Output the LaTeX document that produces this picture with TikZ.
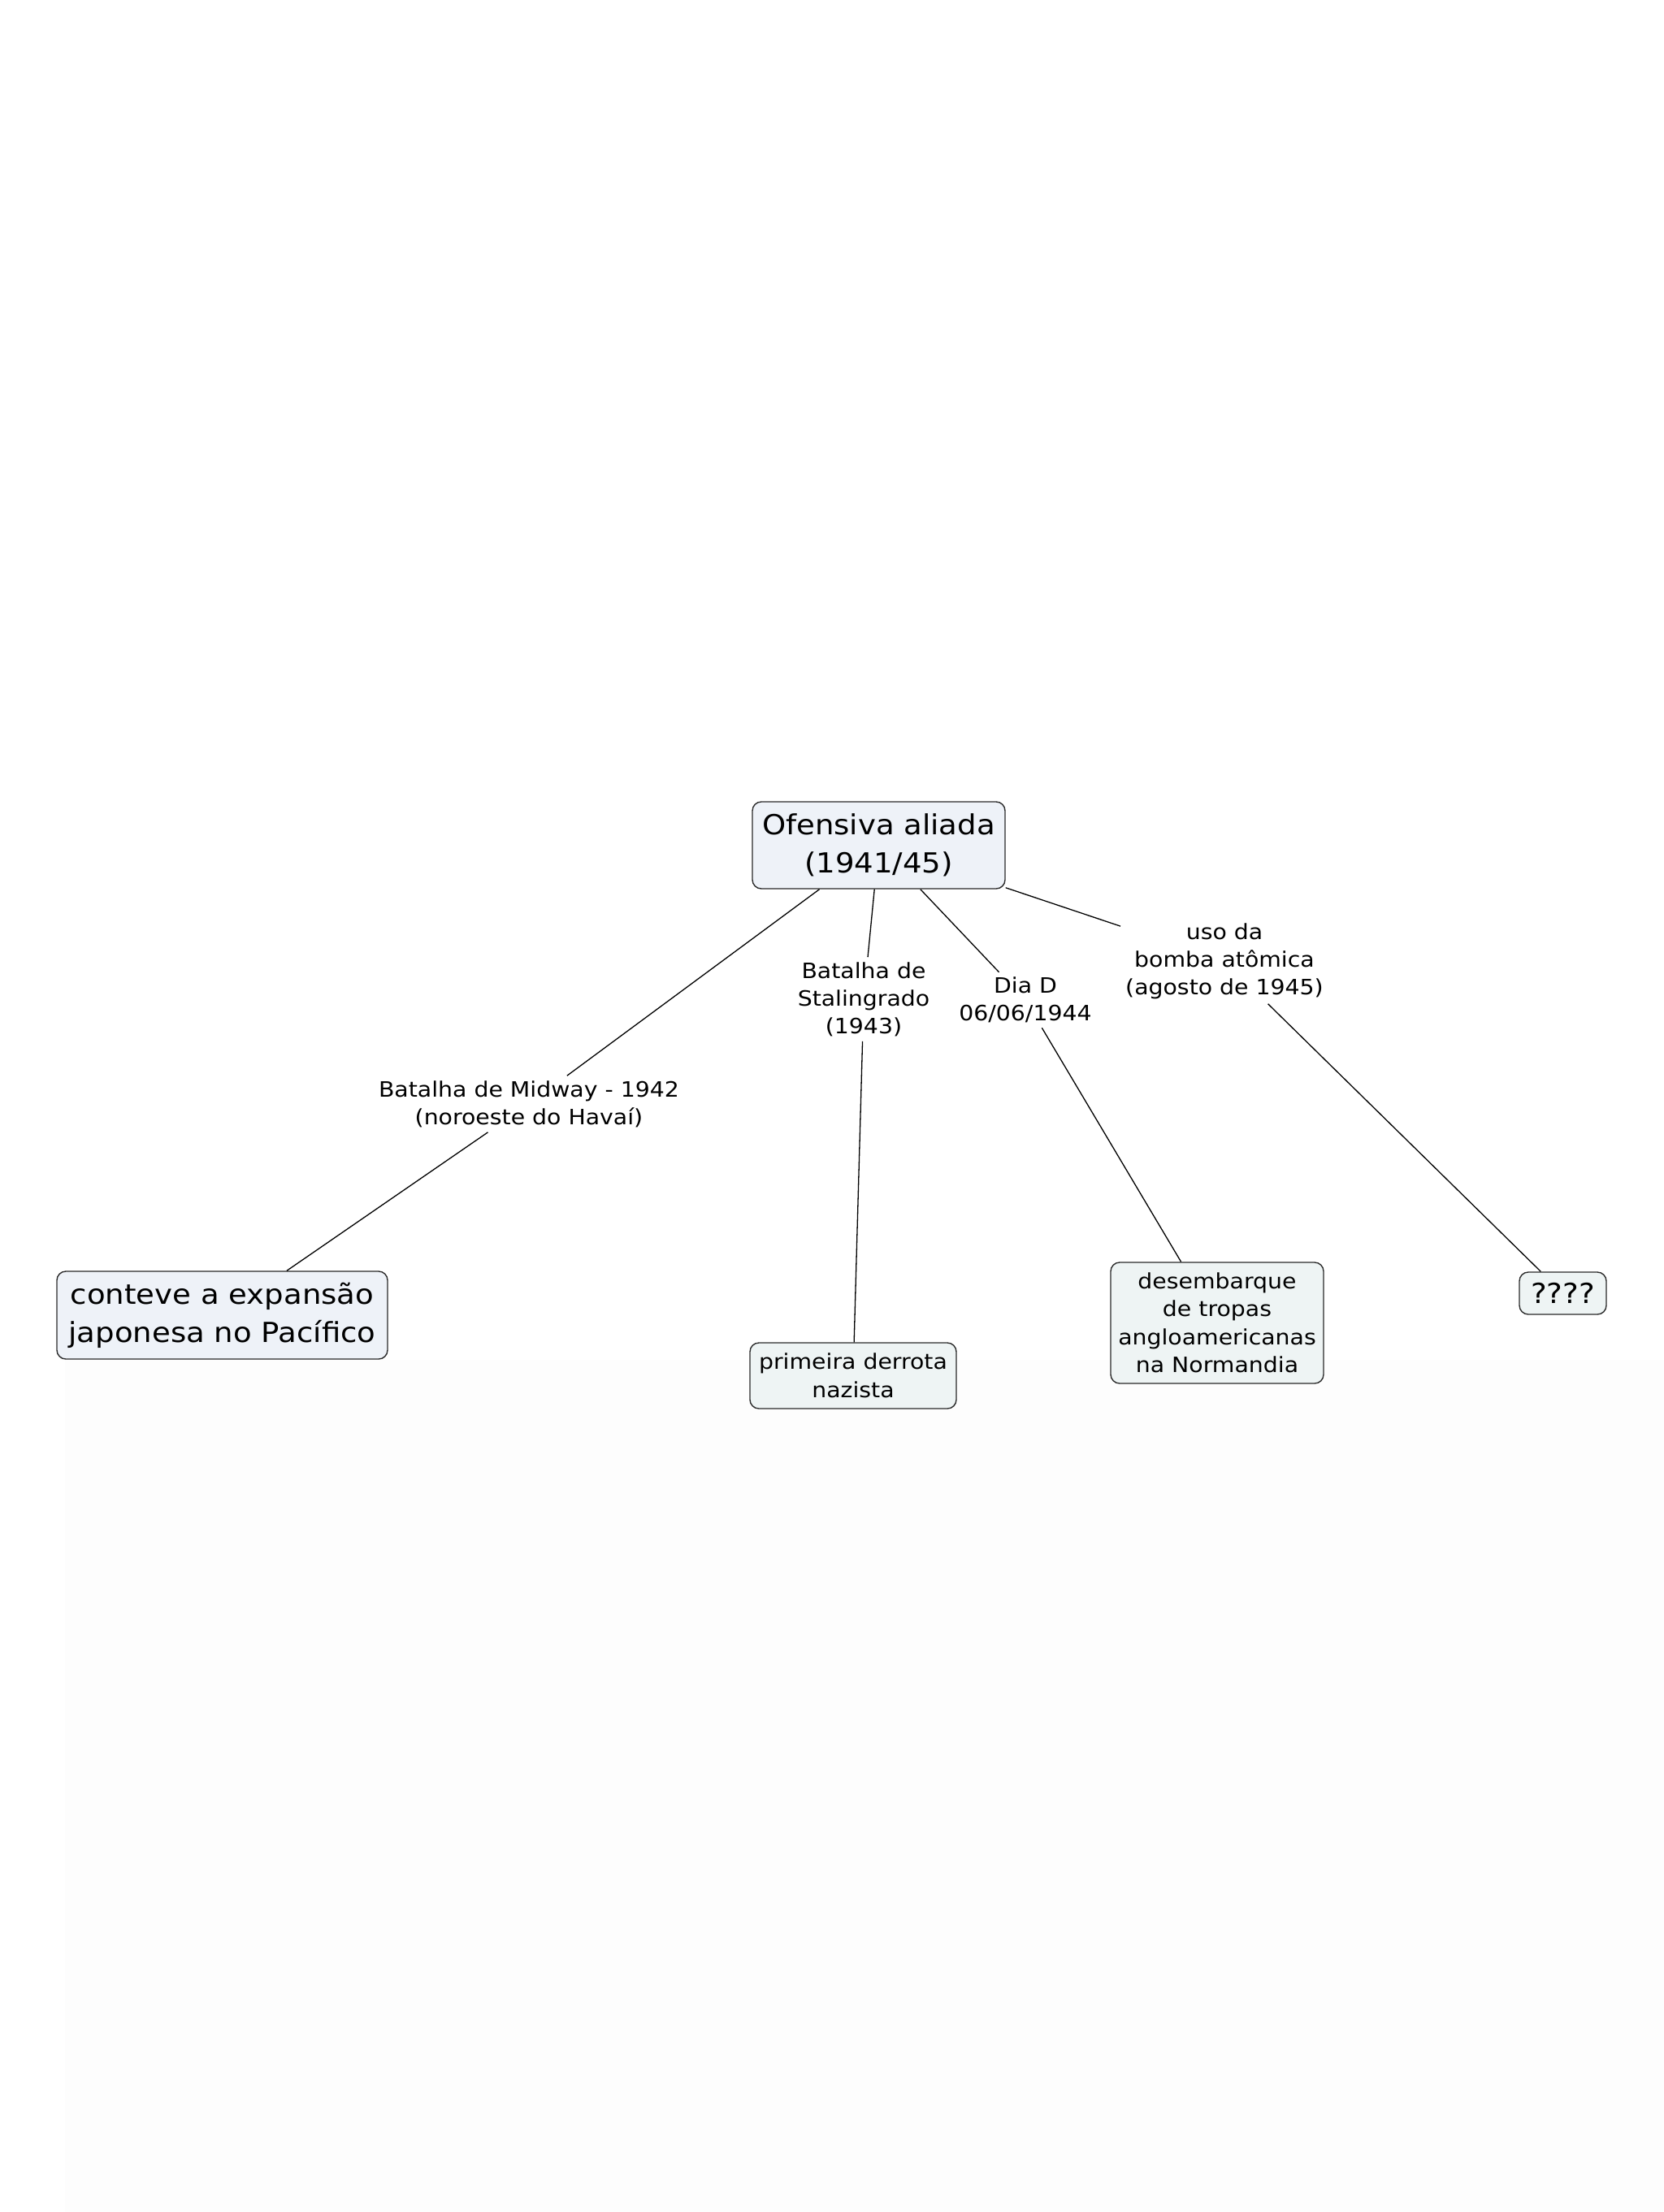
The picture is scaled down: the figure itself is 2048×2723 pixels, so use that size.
\documentclass[tikz,border=0pt]{standalone}
\usepackage{fontspec}
\setmainfont[FakeStretch=1.09]{DejaVu Sans}
\definecolor{boxblue}{HTML}{EEF2F8}
\definecolor{boxgreen}{HTML}{EEF4F4}
\definecolor{lowbg}{HTML}{FDFDFD}
\definecolor{edge}{HTML}{2A2A2A}
\tikzset{
  concept/.style={draw=edge, line width=1.4pt, rounded corners=11pt, align=center, inner sep=0pt, text=black},
  bigtext/.style={font=\fontsize{34}{47}\selectfont},
  midtext/.style={font=\fontsize{26}{34.5}\selectfont},
  linklabel/.style={align=center, inner sep=6pt, font=\fontsize{26}{34}\selectfont, text=black},
  conn/.style={draw=black, line width=1.3pt}
}
\begin{document}
\begin{tikzpicture}[x=1pt,y=-1pt]
\useasboundingbox (0,0) rectangle (2048,2723);
\fill[white] (0,0) rectangle (2048,2723);
\fill[lowbg] (80,1674) rectangle (2048,2723);

\node[concept, bigtext, fill=boxblue, minimum width=311pt, minimum height=107pt] (main) at (1081.5,1040.5) {Ofensiva aliada\\(1941/45)};

\node[concept, bigtext, fill=boxblue, minimum width=407pt, minimum height=108pt] (conteve) at (273.5,1619) {conteve a expansão\\japonesa no Pacífico};
\node[concept, midtext, fill=boxgreen, minimum width=254pt, minimum height=81pt] (primeira) at (1050,1693.5) {primeira derrota\\nazista};
\node[concept, midtext, fill=boxgreen, minimum width=262pt, minimum height=149pt] (desemb) at (1498,1628.5) {desembarque\\de tropas\\angloamericanas\\na Normandia};
\node[concept, bigtext, fill=boxgreen, minimum width=107pt, minimum height=52pt] (q) at (1923.5,1592) {????};

\node[linklabel] (midway) at (651,1359) {Batalha de Midway - 1942\\(noroeste do Havaí)};
\node[linklabel] (stal) at (1063,1230) {Batalha de\\Stalingrado\\(1943)};
\node[linklabel] (diad) at (1262,1231) {Dia D\\06/06/1944};
\node[linklabel] (bomba) at (1507,1183) {uso da\\bomba atômica\\(agosto de 1945)};

\draw[conn] (main) -- (midway);
\draw[conn] (midway) -- (conteve);
\draw[conn] (main) -- (stal);
\draw[conn] (stal) -- (primeira);
\draw[conn] (main) -- (diad);
\draw[conn] (diad) -- (desemb);
\draw[conn] (main) -- (bomba);
\draw[conn] (bomba) -- (q);
\end{tikzpicture}
\end{document}
